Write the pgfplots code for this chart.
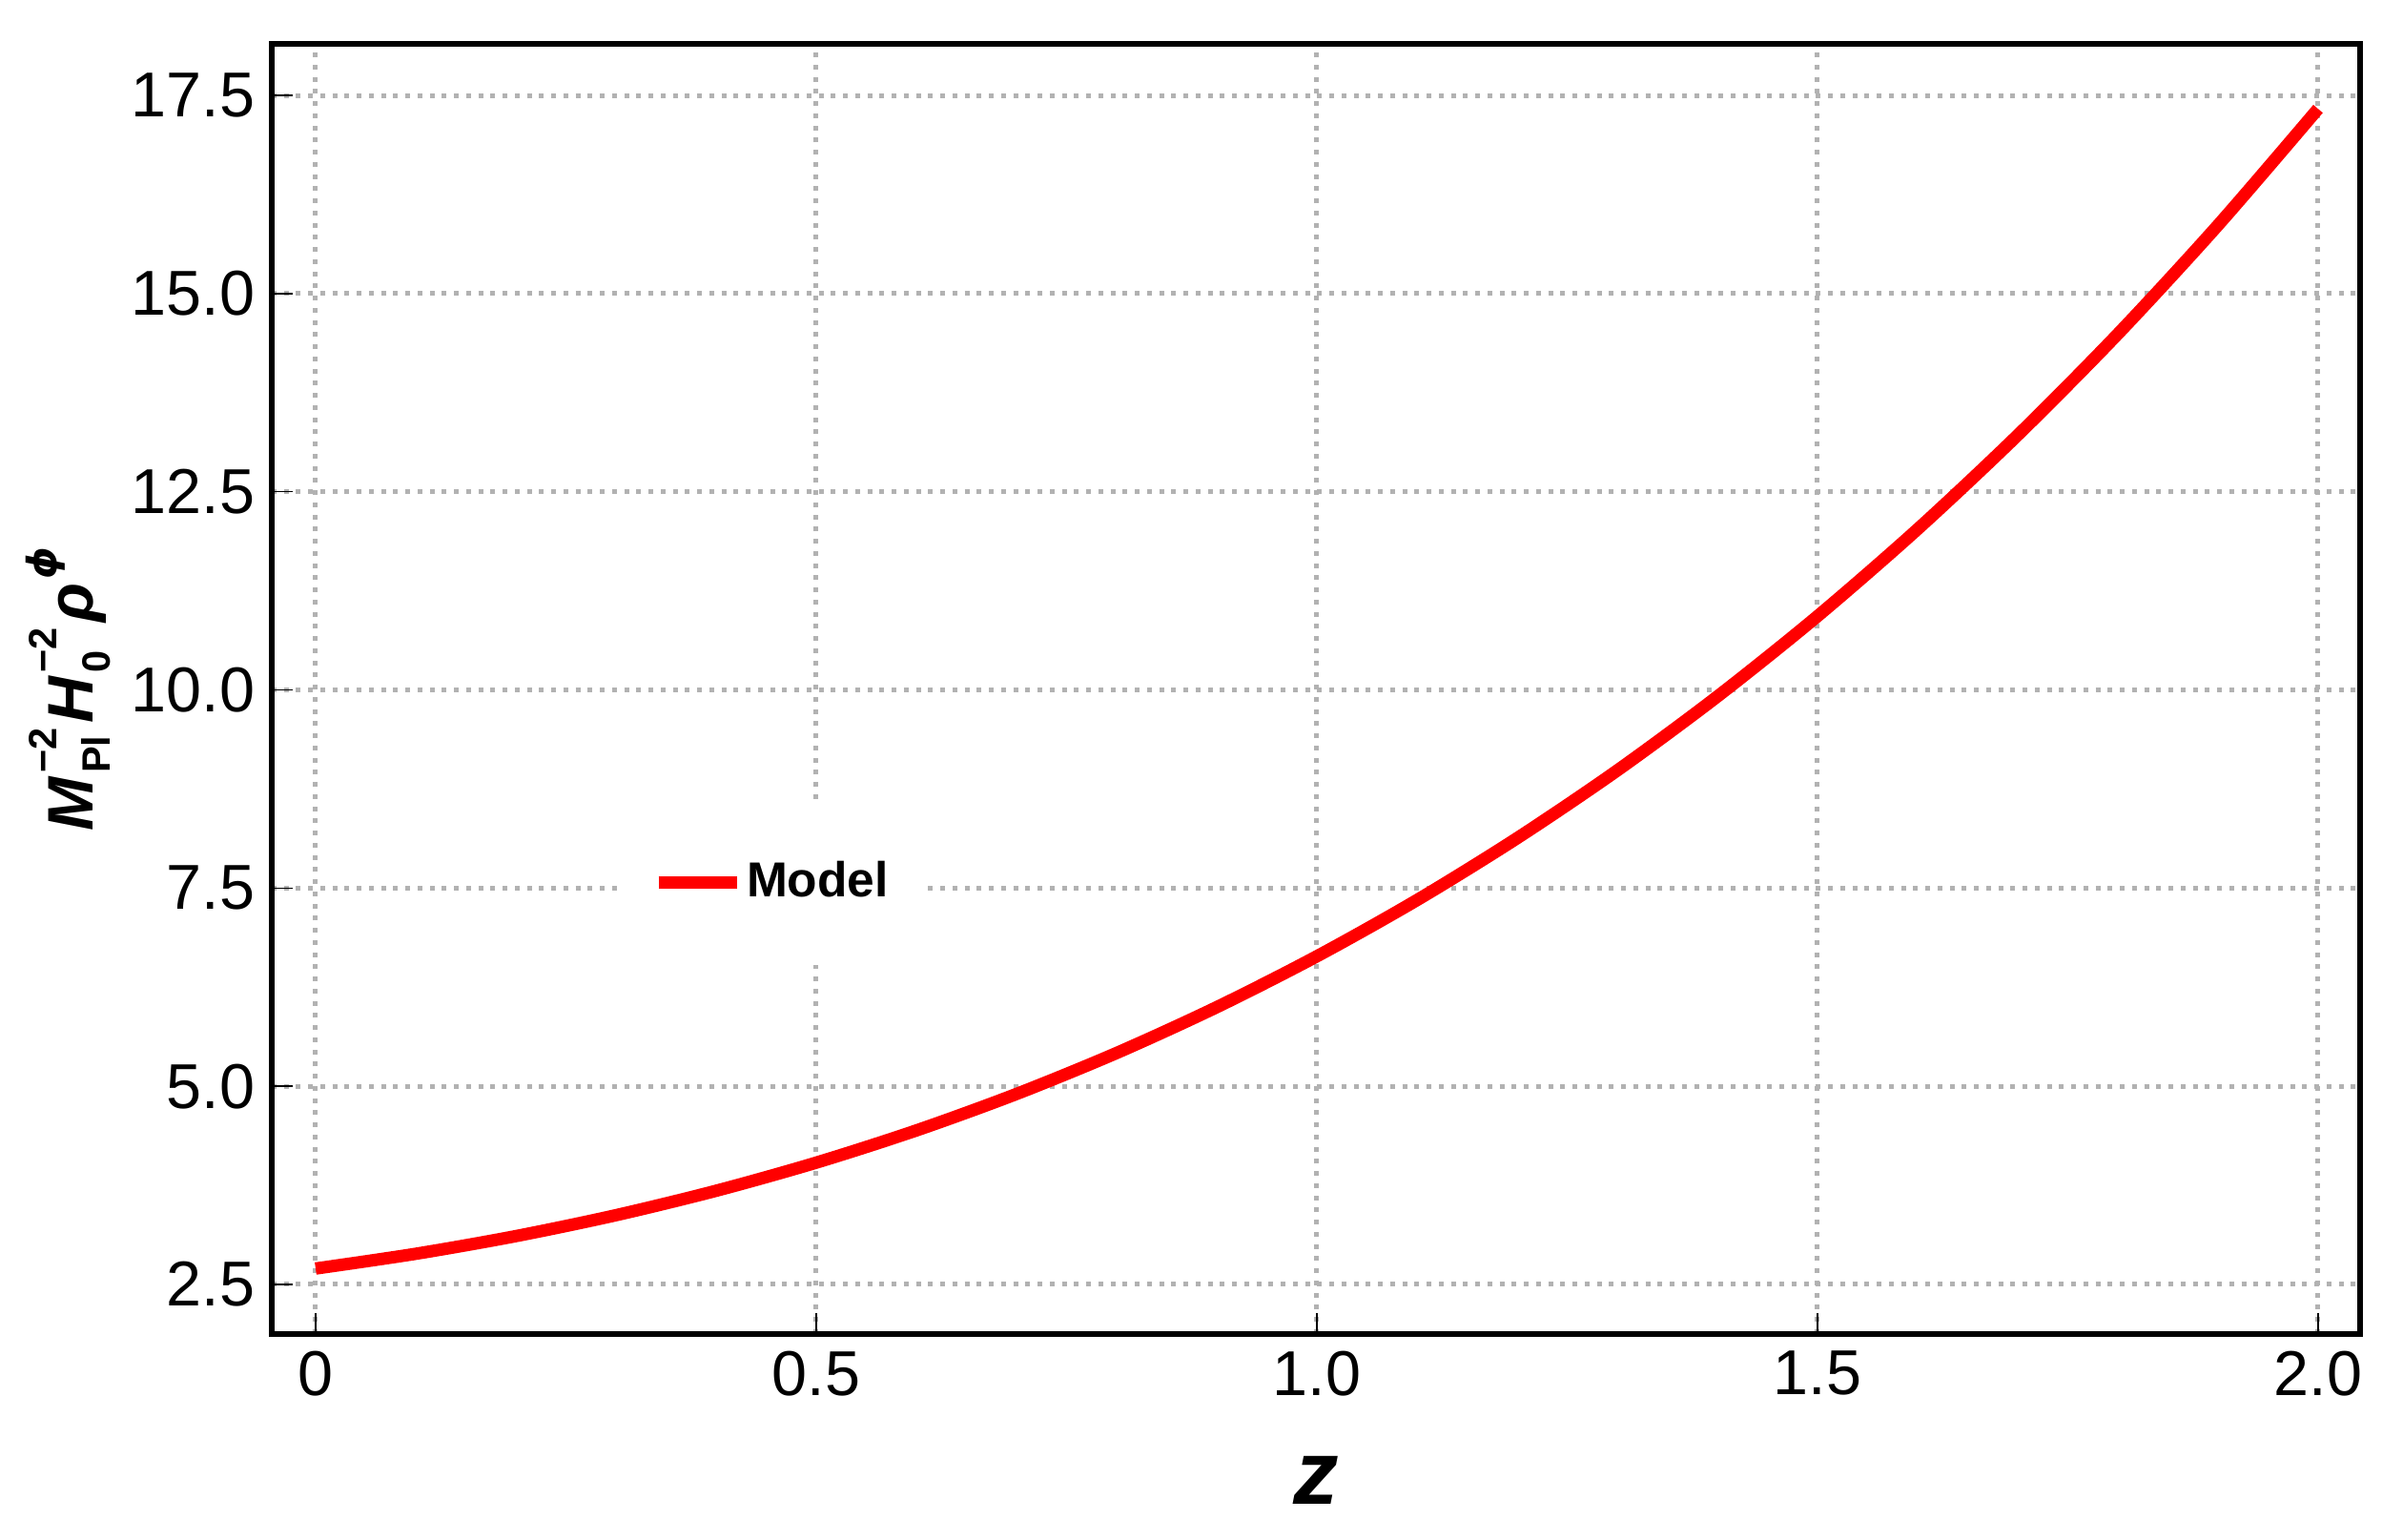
\documentclass[border=0pt]{standalone}
\usepackage{fontspec}
\setmainfont{Liberation Sans}
\newfontfamily\djv{DejaVu Sans}
\usepackage{pgfplots}
\pgfplotsset{compat=1.18}
\newcommand\supsub[2]{\begingroup\fontsize{8.3}{9}\selectfont\bfseries
 \setbox0\hbox{#1}\setbox2\hbox{#2}%
 \ifdim\wd0>\wd2 \dimen0=\wd0 \else \dimen0=\wd2 \fi
 \rlap{\raisebox{7.6pt}{\box0}}\rlap{\raisebox{-3.6pt}{\box2}}\kern\dimen0\endgroup}
\newcommand\ylab{\fontsize{13.5}{15}\selectfont\bfseries
 {\itshape M}\kern0.8pt\supsub{−2}{Pl}\kern1pt{\itshape H}\kern0.8pt\supsub{−2}{0}\kern1.2pt{\itshape ρ}\kern0.8pt\raisebox{7.6pt}{\fontsize{8.5}{10}\selectfont\djv\bfseries\itshape ϕ}}
\begin{document}
\begin{tikzpicture}
\useasboundingbox (-57pt,-43.2pt) rectangle (447pt,279.8pt);
\begin{axis}[
 at={(0,0)}, anchor=south west,
 width=438pt, height=270.6pt, scale only axis,
 xmin=-0.0438, xmax=2.042, ymin=1.874, ymax=18.15,
 xtick={0,0.5,1,1.5,2}, xticklabels={0,0.5,1.0,1.5,2.0},
 ytick={2.5,5,7.5,10,12.5,15,17.5}, yticklabels={2.5,5.0,7.5,10.0,12.5,15.0,17.5},
 tick pos=left, tick align=inside, major tick length=4.4pt,
 tick style={black, line width=0.3pt},
 axis line style={line width=1.2pt},
 grid=major,
 major grid style={black!30, line width=1pt, dash pattern=on 1pt off 1.55pt},
 tick label style={font=\fontsize{13.3}{15}\selectfont},
 /pgf/number format/assume math mode=true,
 every axis x label/.style={at={(axis description cs:0.5,-0.1323)}, anchor=base},
 every axis y label/.style={at={(axis description cs:-0.0854,0.5)}, rotate=90, anchor=base},
 xlabel={\fontsize{19}{21}\selectfont\bfseries\itshape z},
 ylabel={\ylab},
 legend style={at={(axis description cs:0.2397,0.3496)}, anchor=center, draw=none, fill=white,
   inner xsep=6pt, inner ysep=12pt, font=\fontsize{10.3}{12}\selectfont\bfseries,
   nodes={inner sep=0.8pt}},
 legend image code/.code={\draw[#1] (0pt,0pt) -- (16.4pt,0pt);},
]
\addplot[red, line width=2.6pt, no markers, smooth] coordinates {
(0.0,2.700) (0.1,2.886) (0.2,3.109) (0.3,3.373) (0.4,3.681) (0.5,4.036)
(0.6,4.442) (0.7,4.902) (0.8,5.419) (0.9,5.997) (1.0,6.639) (1.1,7.348)
(1.2,8.129) (1.3,8.983) (1.4,9.916) (1.5,10.929) (1.6,12.027) (1.7,13.213)
(1.8,14.489) (1.9,15.861) (2.0,17.330)
};
\addlegendentry{Model}
\end{axis}
\end{tikzpicture}
\end{document}
